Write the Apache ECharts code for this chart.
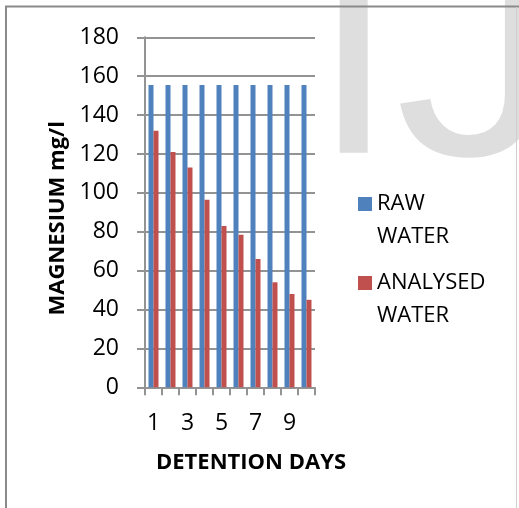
<!DOCTYPE html>
<html>
<head>
<meta charset="utf-8">
<script src="https://cdn.jsdelivr.net/npm/echarts@6/dist/echarts.min.js"></script>
<style>
  html, body { margin: 0; padding: 0; background: #fff; }
  #chart { width: 519px; height: 508px; }
</style>
</head>
<body>
<div id="chart"></div>
<script>
// data
const days = ['1', '2', '3', '4', '5', '6', '7', '8', '9', '10']
const rawWater = [155.5, 155.5, 155.5, 155.5, 155.5, 155.5, 155.5, 155.5, 155.5, 155.5]
const analysedWater = [132, 121, 113, 96.5, 83, 78.5, 66, 54, 48, 45]
const seriesNames = ['RAW WATER', 'ANALYSED WATER']

const font = 'Open Sans'
const gray = '#939393'

const chart = echarts.init(document.getElementById('chart'))

// legend entry, one per series; the leading blank line keeps the icon on the first text line
const legendFor = (name, top) => ({
  data: [name],
  left: 358,
  top: top,
  padding: 0,
  icon: 'rect',
  itemWidth: 14,
  itemHeight: 14,
  selectedMode: false,
  formatter: n => '\n' + n.replace(' ', '\n'),
  textStyle: {
    fontFamily: font,
    fontSize: 22,
    lineHeight: 33,
    color: '#000',
  },
})

// background watermark letters
const markStyle = {
  x: 0,
  y: 0,
  font: '300px "Liberation Sans"',
  fill: '#dedede',
  verticalAlign: 'middle',
}

chart.setOption({
  animation: false,
  color: ['#4f81bd', '#c0504d'],
  graphic: [
    { type: 'text', z: -10, silent: true, x: 312, y: 70, style: { ...markStyle, text: 'I' } },
    { type: 'text', z: -10, silent: true, x: 395, y: 72, scaleX: 1.1, style: { ...markStyle, text: 'J' } },
    // frame
    { type: 'line', z: 10, shape: { x1: 5, y1: 6.5, x2: 519, y2: 6.5 }, style: { stroke: '#8a8a8a', lineWidth: 2 } },
    { type: 'line', z: 10, shape: { x1: 6, y1: 6, x2: 6, y2: 508 }, style: { stroke: '#8a8a8a', lineWidth: 2 } },
    { type: 'line', z: 10, shape: { x1: 516.5, y1: 7, x2: 516.5, y2: 508 }, style: { stroke: '#cfcfcf', lineWidth: 1 } },
  ],
  grid: {
    left: 145,
    right: 204,
    top: 37.3,
    bottom: 120.7,
  },
  legend: [
    legendFor(seriesNames[0], 154.5),
    legendFor(seriesNames[1], 233.5),
  ],
  xAxis: {
    type: 'category',
    data: days,
    name: 'DETENTION DAYS',
    nameLocation: 'middle',
    nameGap: 64,
    nameTextStyle: {
      fontFamily: font,
      fontSize: 22,
      fontWeight: 'bold',
      color: '#000',
      padding: [0, 0, 0, 42],
    },
    axisLine: { lineStyle: { color: gray, width: 2 } },
    axisTick: { show: true, interval: 0, length: 8, lineStyle: { color: gray, width: 2 } },
    axisLabel: {
      interval: 1,
      margin: 25,
      fontFamily: font,
      fontSize: 23,
      color: '#000',
    },
  },
  yAxis: {
    type: 'value',
    min: 0,
    max: 180,
    interval: 20,
    name: 'MAGNESIUM mg/l',
    nameLocation: 'middle',
    nameGap: 76,
    nameTextStyle: {
      fontFamily: font,
      fontSize: 22,
      fontWeight: 'bold',
      color: '#000',
      padding: [0, 12, 0, 0],
    },
    axisLine: { show: true, lineStyle: { color: gray, width: 2 } },
    axisTick: { show: true, length: 8, lineStyle: { color: gray, width: 2 } },
    axisLabel: {
      margin: 26,
      fontFamily: font,
      fontSize: 23,
      color: '#000',
    },
    splitLine: { lineStyle: { color: gray, width: 2 } },
  },
  series: [
    {
      name: seriesNames[0],
      type: 'bar',
      data: rawWater,
      barWidth: 5,
      barGap: '0%',
    },
    {
      name: seriesNames[1],
      type: 'bar',
      data: analysedWater,
      barWidth: 5,
      barGap: '0%',
    },
  ],
})
</script>
</body>
</html>
